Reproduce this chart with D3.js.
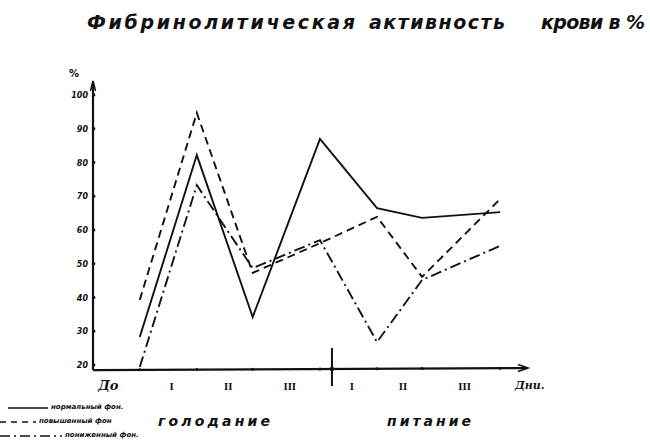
<!DOCTYPE html>
<html>
<head>
<meta charset="utf-8">
<script src="https://cdn.jsdelivr.net/npm/d3@7"></script>
<style>
  html, body { margin: 0; padding: 0; background: #fff; }
  svg { display: block; }
  text { fill: #111; }
</style>
</head>
<body>
<svg id="chart" width="650" height="446"></svg>
<script>
// ---- data ----
const sampleDay = [0, 1, 1.98, 3.16, 4.16, 4.95, 6.32];   // measurement points along the time axis
const intervalLabels = ["До", "I", "II", "III", "I", "II", "III"];
const normalFon = [28.3, 82.2, 34.2, 87.0, 66.5, 63.6, 65.3];   // нормальный фон
const highFon   = [39.3, 94.7, 47.3, 56.1, 63.9, 46.1, 69.2];   // повышенный фон
const lowFon    = [19.4, 73.3, 48.7, 57.0, 26.8, 45.2, 55.3];   // пониженный фон
const yTicks = [100, 90, 80, 70, 60, 50, 40, 30, 20];
const yTickLabels = ["100", "90", "80", "70", "60", "50", "40", "30", "20"];
const phaseBoundary = 3.37;   // конец голодания / начало питания
const legendNames = ["нормальный фон.", "повышенный фон", "пониженный фон."];
const phaseNames = ["голодание", "питание"];
const titleWords = ["Фибринолитическая", "активность", "крови в %"];

// ---- layout ----
const svg = d3.select("#chart");
const ink = "#111";
const x = d3.scaleLinear().domain([-0.82, 6.79]).range([93, 527]);
const y = d3.scaleLinear().domain([20, 100]).range([365, 95]);
const axisY = y(18.5);
const axisTop = y(103.6);

// title (three hand-spaced words)
const titleSpans = [[87, 268], [369, 136], [541, 104]];
titleWords.forEach((w, i) => {
  svg.append("text")
    .attr("x", titleSpans[i][0]).attr("y", 29)
    .attr("textLength", titleSpans[i][1]).attr("lengthAdjust", "spacing")
    .style("font-family", "'DejaVu Sans', sans-serif")
    .style("font-style", "italic").style("font-weight", "bold")
    .style("font-size", "19px")
    .text(w);
});

// axes
const g = svg.append("g");
g.append("line").attr("x1", x.range()[0]).attr("x2", x.range()[0])
  .attr("y1", axisY).attr("y2", axisTop)
  .attr("stroke", ink).attr("stroke-width", 2.2);
g.append("path")
  .attr("d", `M${x.range()[0]-2.5},${axisTop+8} L${x.range()[0]},${axisTop-2} L${x.range()[0]+2.5},${axisTop+8}`)
  .attr("fill", "none").attr("stroke", ink).attr("stroke-width", 1.6);
g.append("line").attr("x1", x.range()[0]).attr("x2", x.range()[1])
  .attr("y1", axisY).attr("y2", axisY - 2)
  .attr("stroke", ink).attr("stroke-width", 2.2);
g.append("path")
  .attr("d", `M${x.range()[1]-9},${axisY-5.5} L${x.range()[1]+1},${axisY-2} L${x.range()[1]-9},${axisY+1.5}`)
  .attr("fill", "none").attr("stroke", ink).attr("stroke-width", 1.6);

// y ticks (small dots on the axis) + labels
yTicks.forEach((v, i) => {
  g.append("circle").attr("cx", x.range()[0] + 1).attr("cy", y(v)).attr("r", 1.4).attr("fill", ink);
  g.append("text")
    .attr("x", 88).attr("y", y(v) + 3)
    .attr("text-anchor", "end")
    .style("font-family", "'DejaVu Sans', sans-serif")
    .style("font-weight", "bold").style("font-style", "italic")
    .style("font-size", "8px")
    .text(yTickLabels[i]);
});
svg.append("text").attr("x", 69).attr("y", 77)
  .style("font-family", "'DejaVu Sans', sans-serif")
  .style("font-weight", "bold").style("font-size", "10px")
  .text("%");

// x tick dots at sample points
const slope = -2 / (x.range()[1] - x.range()[0]);
const axisAt = px => axisY + slope * (px - x.range()[0]);
sampleDay.forEach(d => {
  g.append("circle").attr("cx", x(d)).attr("cy", axisAt(x(d))).attr("r", 1.5).attr("fill", ink);
});

// phase divider
g.append("line").attr("x1", x(phaseBoundary)).attr("x2", x(phaseBoundary))
  .attr("y1", axisY - 22).attr("y2", axisY + 16)
  .attr("stroke", ink).attr("stroke-width", 2);
g.append("circle").attr("cx", x(phaseBoundary)).attr("cy", axisAt(x(phaseBoundary))).attr("r", 2.2).attr("fill", ink);

// interval labels (between sample points)
const bounds = [x.domain()[0]].concat(sampleDay);
intervalLabels.forEach((lab, i) => {
  const first = i === 0;
  const mid = first ? -0.55 : (bounds[i] + bounds[i + 1]) / 2 + 0.06;
  svg.append("text")
    .attr("x", x(mid)).attr("y", 390)
    .attr("text-anchor", "middle")
    .style("font-family", "'DejaVu Serif', serif")
    .style("font-weight", "bold")
    .style("font-style", first ? "italic" : "normal")
    .style("font-size", first ? "13px" : "9px")
    .text(lab);
});
svg.append("text")
  .attr("x", x.range()[1] - 12).attr("y", 389)
  .style("font-family", "'DejaVu Serif', serif")
  .style("font-weight", "bold").style("font-style", "italic")
  .style("font-size", "11px")
  .text("Дни.");

// series lines
const series = [
  { values: normalFon, dash: null },
  { values: highFon, dash: "8,5" },
  { values: lowFon, dash: "11,4,2,4" }
];
const line = d3.line().x(d => x(d[0])).y(d => y(d[1]));
series.forEach(s => {
  svg.append("path")
    .datum(sampleDay.map((d, i) => [d, s.values[i]]))
    .attr("d", line)
    .attr("fill", "none")
    .attr("stroke", ink)
    .attr("stroke-width", 1.9)
    .attr("stroke-linejoin", "miter")
    .attr("stroke-dasharray", s.dash);
});

// legend
const legendRows = [408, 422, 436];
const legendSym = [[8, 48], [0, 36], [0, 62]];
series.forEach((s, i) => {
  svg.append("line")
    .attr("x1", legendSym[i][0]).attr("x2", legendSym[i][1])
    .attr("y1", legendRows[i]).attr("y2", legendRows[i])
    .attr("stroke", ink).attr("stroke-width", 1.6)
    .attr("stroke-dasharray", i === 0 ? null : (i === 1 ? "6,5" : "10,4,2,4"));
  svg.append("text")
    .attr("x", legendSym[i][1] + 3).attr("y", legendRows[i] + 1)
    .style("font-family", "'DejaVu Sans', sans-serif")
    .style("font-weight", "bold").style("font-style", "italic")
    .style("font-size", "7px")
    .text(legendNames[i]);
});

// phase names
svg.append("text")
  .attr("x", 158).attr("y", 426)
  .attr("textLength", 112).attr("lengthAdjust", "spacing")
  .style("font-family", "'DejaVu Sans', sans-serif")
  .style("font-style", "italic").style("font-weight", "bold").style("font-size", "14px")
  .text(phaseNames[0]);
svg.append("text")
  .attr("x", 387).attr("y", 426)
  .attr("textLength", 84).attr("lengthAdjust", "spacing")
  .style("font-family", "'DejaVu Sans', sans-serif")
  .style("font-style", "italic").style("font-weight", "bold").style("font-size", "14px")
  .text(phaseNames[1]);
</script>
</body>
</html>
